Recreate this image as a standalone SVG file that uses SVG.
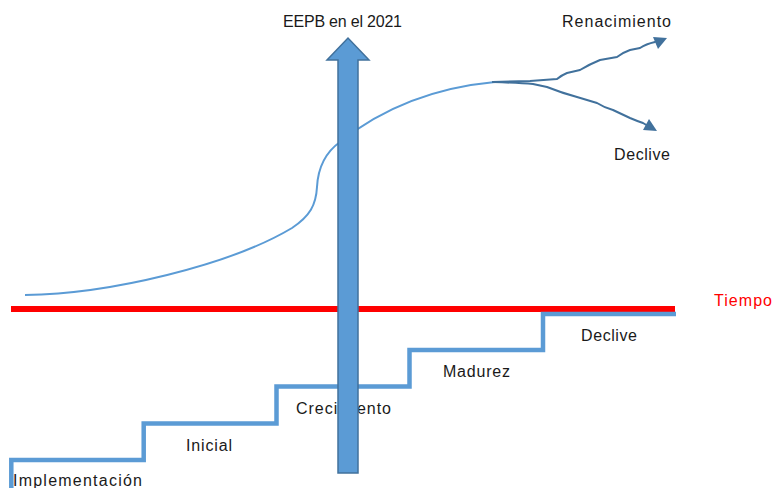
<svg xmlns="http://www.w3.org/2000/svg" width="772" height="488" viewBox="0 0 772 488">
  <style>
    .lbl { font-family: "Liberation Sans", Arial, sans-serif; font-size: 16px; fill: #1a1a1a; }
    .red { fill: #ff0000; }
    .curve { fill: none; stroke: #5b9bd5; stroke-width: 2; }
    .branch { fill: none; stroke: #41719c; stroke-width: 2; stroke-linejoin: round; stroke-linecap: round; }
    .head { fill: #41719c; }
    .steps { fill: none; stroke: #5b9bd5; stroke-width: 4.5; }
  </style>
  <rect width="772" height="488" fill="#ffffff"/>

  <g id="connectors">
    <!-- life-cycle curve -->
    <path id="curve" class="curve" d="M25,295 C110,294 230,265 292,228 C310,216 316,205 317,187 C318,168 326,152 340,142 C380,110 430,88 495,82"/>
    <!-- renewal branch -->
    <path id="branch-up" class="branch" d="M493,82 L530,81 L557,79 Q562,75 567,73 L580,70 Q590,64 600,60 L617,57 Q624,52 630,50 L640,48 Q646,44 655,42"/>
    <polygon class="head" points="667,38 653,37 658,49"/>
    <!-- decline branch -->
    <path id="branch-down" class="branch" d="M493,82 Q520,83 533,84 L547,87 Q562,93 577,97 L597,103 Q605,108 613,110 L630,118 Q637,121 643,123 L648,126"/>
    <polygon class="head" points="657,131 643,130 649,119"/>
  </g>

  <!-- time axis -->
  <g id="tiempo">
    <line x1="11" y1="309" x2="675" y2="309" stroke="#ff0000" stroke-width="6"/>
    <text class="lbl red" x="714" y="306" textLength="58" lengthAdjust="spacing">Tiempo</text>
  </g>

  <!-- stages staircase -->
  <g id="stages">
    <polyline class="steps" points="11.3,488 11.3,460 143.7,460 143.7,423.5 276.5,423.5 276.5,386.5 409.5,386.5 409.5,350 543,350 543,314 676,314"/>
  </g>

  <g id="stage-implementacion"><text class="lbl" x="13" y="486" textLength="129" lengthAdjust="spacing">Implementación</text></g>
  <g id="stage-inicial"><text class="lbl" x="186" y="451" textLength="46" lengthAdjust="spacing">Inicial</text></g>
  <g id="stage-crecimiento"><text class="lbl" x="296" y="414" textLength="95" lengthAdjust="spacing">Crecimiento</text></g>
  <g id="stage-madurez"><text class="lbl" x="443" y="377" textLength="67" lengthAdjust="spacing">Madurez</text></g>
  <g id="stage-declive"><text class="lbl" x="581" y="341" textLength="56" lengthAdjust="spacing">Declive</text></g>

  <g id="outcome-renacimiento"><text class="lbl" x="562" y="27" textLength="109" lengthAdjust="spacing">Renacimiento</text></g>
  <g id="outcome-declive"><text class="lbl" x="614" y="160" textLength="56" lengthAdjust="spacing">Declive</text></g>

  <!-- current position marker -->
  <g id="eepb-2021">
    <text class="lbl" x="283" y="27" textLength="119" lengthAdjust="spacing">EEPB en el 2021</text>
    <polygon points="338,473 338,60 327,60 348,38 369,60 358,60 358,473" fill="#5b9bd5" stroke="#41719c" stroke-width="1.5"/>
  </g>
</svg>
